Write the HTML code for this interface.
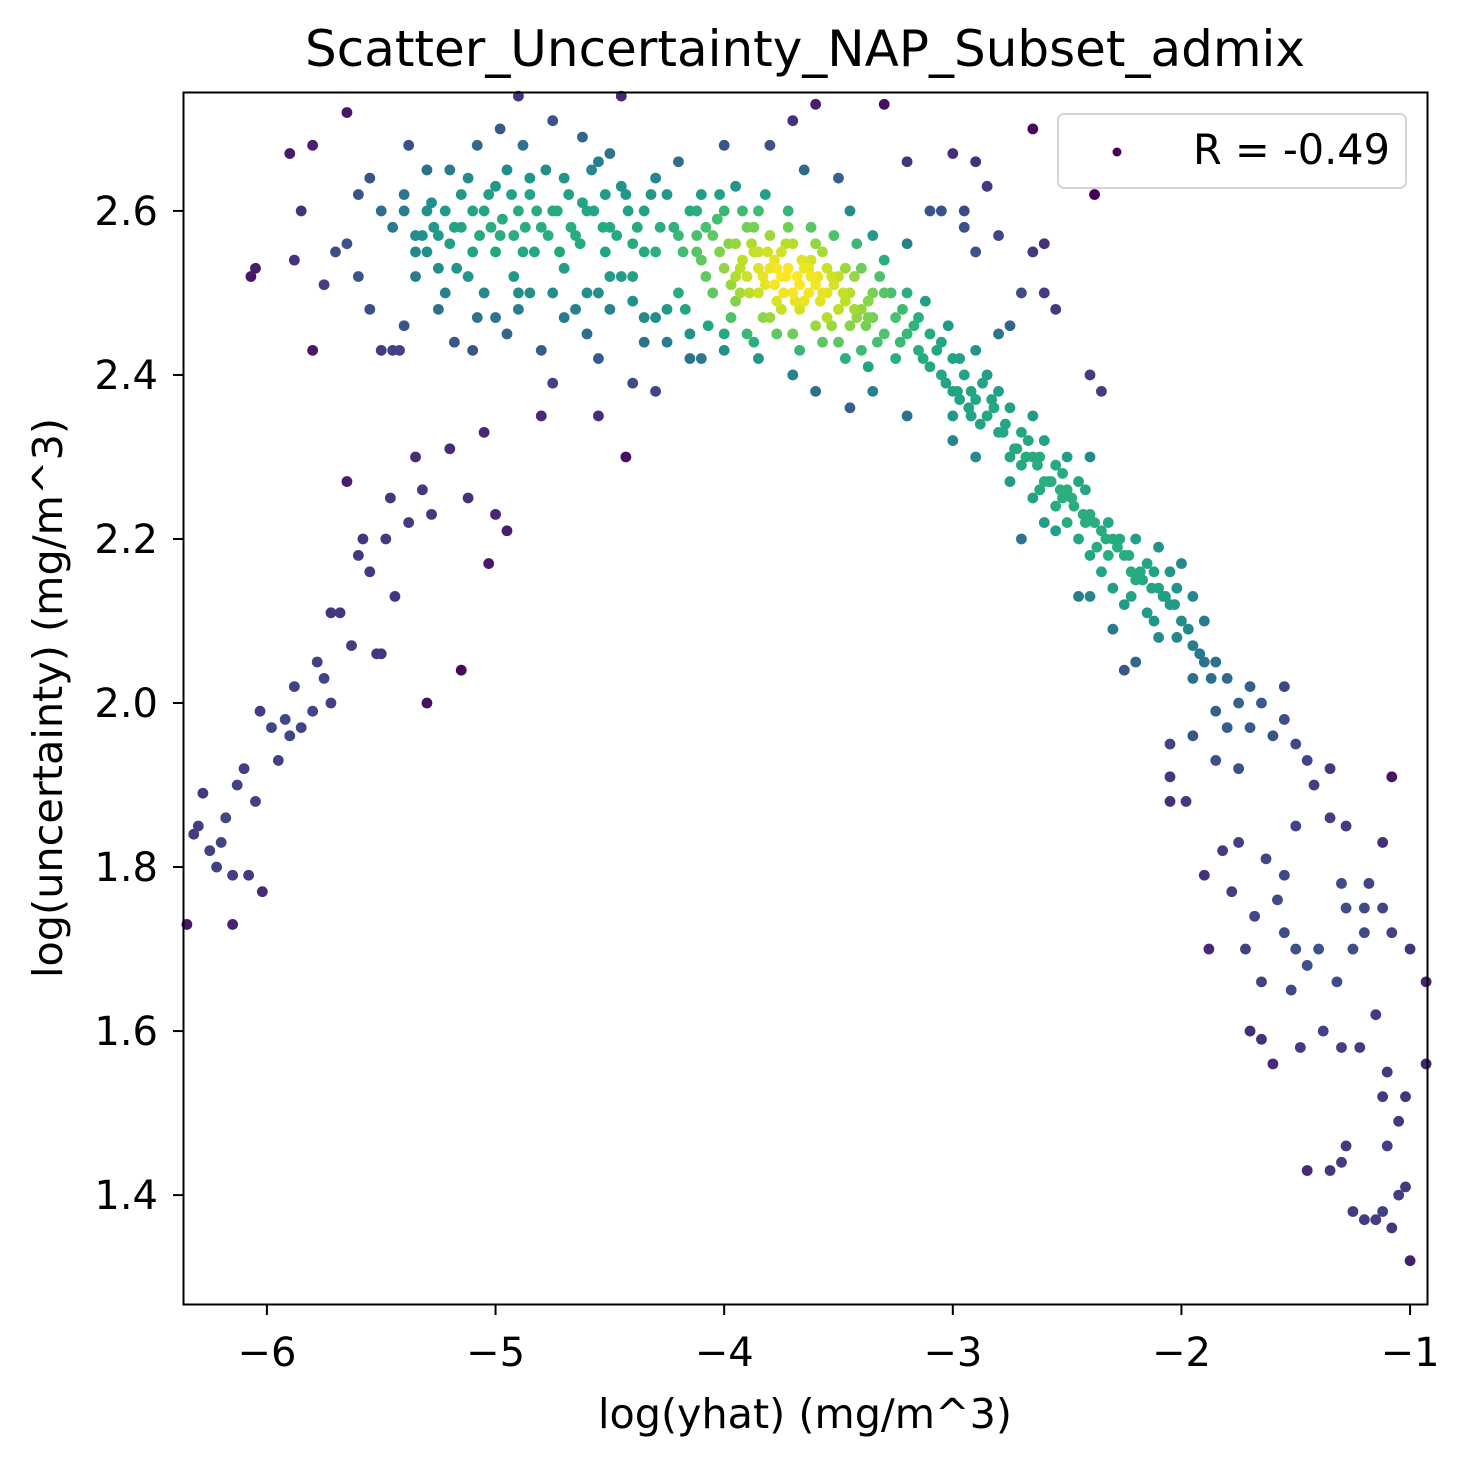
<!DOCTYPE html>
<html><head><meta charset="utf-8"><style>
html,body{margin:0;padding:0;background:#fff;}
svg{display:block;font-family:"DejaVu Sans","Liberation Sans",sans-serif;}
</style></head><body>
<svg id="chart" width="1468" height="1466" viewBox="0 0 1468 1466">
<rect x="0" y="0" width="1468" height="1466" fill="#fff"/>
<text x="805" y="66" font-size="50" text-anchor="middle" textLength="1000" lengthAdjust="spacingAndGlyphs">Scatter_Uncertainty_NAP_Subset_admix</text>
<g id="points"></g>
<rect x="183.5" y="92.5" width="1244" height="1212" fill="none" stroke="#000" stroke-width="2"/>
<g id="xticks"></g>
<g id="yticks"></g>
<text x="805" y="1428" font-size="41" text-anchor="middle" textLength="414" lengthAdjust="spacingAndGlyphs">log(yhat) (mg/m^3)</text>
<text transform="translate(62,698) rotate(-90)" font-size="41" text-anchor="middle" textLength="560" lengthAdjust="spacingAndGlyphs">log(uncertainty) (mg/m^3)</text>
<g>
<rect x="1058" y="114" width="348" height="74" rx="6" fill="#fff" fill-opacity="0.8" stroke="#d5d5d5" stroke-width="2"/>
<circle cx="1117" cy="152" r="4.5" fill="#440154"/>
<text x="1390" y="164" font-size="42" text-anchor="end" textLength="197" lengthAdjust="spacingAndGlyphs">R = -0.49</text>
</g>
</svg>
<script>
const xTicks=[-6,-5,-4,-3,-2,-1];
const yTicks=[1.4,1.6,1.8,2.0,2.2,2.4,2.6];
const yTickLabels=["1.4","1.6","1.8","2.0","2.2","2.4","2.6"];
const xs=[-6.35,-6.3,-6.28,-6.22,-6.2,-6.18,-6.15,-6.13,-6.1,-6.08,-6.05,-6.03,-6.02,-5.98,-5.95,-5.92,-5.9,-5.88,-5.85,-5.8,-5.78,-5.75,-5.72,-5.68,-5.63,-5.6,-5.58,-5.55,-5.52,-5.5,-5.48,-5.46,-5.44,-5.38,-5.35,-5.32,-5.3,-5.28,-5.2,-5.15,-5.12,-5.05,-5.03,-5.0,-4.95,-5.65,-5.42,-5.72,-6.15,-6.32,-6.25,
-5.9,-5.8,-5.65,-5.6,-5.65,-5.7,-5.75,-5.85,-5.88,-6.07,-6.05,-5.8,-5.55,-5.55,-5.5,-5.45,-5.4,-5.38,-5.35,-5.3,-5.28,-5.25,-5.2,-5.18,-5.15,-5.1,-5.08,-5.05,-5.0,-4.98,-4.95,-4.92,-4.9,-4.88,-4.85,-4.8,-4.78,-4.75,-4.7,-4.68,-4.65,-4.6,-4.58,-4.55,-4.52,-4.5,-4.45,-5.3,-5.22,-5.12,-5.0,-4.95,-4.9,-4.8,-4.7,-4.6,-4.55,-4.5,-4.45,-4.4,-5.45,-5.35,-5.25,-5.18,-5.05,-4.98,-4.88,-4.75,-4.62,-4.55,-4.5,-4.45,-4.9,-4.4,-4.75,-4.8,-4.3,-4.43,-4.55,-5.1,-5.6,-5.5,-5.4,-5.4,-5.32,-5.22,-5.12,-5.02,-4.92,-4.82,-4.72,-4.62,-4.52,-4.42,
-4.4,-4.35,-4.3,-4.3,-4.25,-4.2,-4.2,-4.15,-4.15,-4.1,-4.1,-4.05,-4.05,-4.0,-4.0,-4.0,-3.95,-3.95,-3.9,-3.9,-3.9,-3.85,-3.85,-3.85,-3.8,-3.8,-3.8,-3.75,-3.75,-3.75,-3.7,-3.7,-3.7,-3.65,-3.65,-3.6,-3.6,-3.6,-3.55,-3.55,-3.5,-3.5,-3.5,-3.45,-3.45,-3.4,-3.4,-3.4,-3.35,-3.35,-3.3,-3.3,-3.25,-3.25,-3.2,-3.2,-3.15,-3.15,-3.1,-3.1,-3.05,-3.05,-3.0,-3.0,
-3.92,-3.88,-3.82,-3.78,-3.72,-3.68,-3.62,-3.58,-3.52,-3.48,-3.42,-3.38,-3.62,-3.78,-3.85,-4.02,-4.08,-3.72,-3.55,-3.95,
-3.93,-3.87,-3.83,-3.77,-3.73,-3.67,-3.63,-3.57,-3.53,-3.47,-3.43,-3.37,-3.66,-3.81,-3.89,-3.97,-4.12,-3.74,-3.59,-3.69,
-4.3,-4.2,-4.0,-3.95,-3.8,-3.7,-3.6,-3.65,-3.5,-3.45,-3.35,-3.3,-3.2,-3.1,-3.0,-2.95,-2.9,-2.85,-2.8,-3.3,-4.0,-3.85,-3.7,-3.6,-3.45,-3.35,-3.2,-4.1,-4.25,-4.35,
-3.0,-2.95,-2.9,-2.9,-2.85,-2.85,-2.8,-2.8,-2.75,-2.75,-2.7,-2.7,-2.65,-2.65,-2.6,-2.6,-2.55,-2.55,-2.5,-2.5,-2.45,-2.45,-2.4,-2.4,-2.35,-2.35,-2.3,-2.3,-2.25,-2.25,-2.2,-2.2,-2.15,-2.15,-2.1,-2.1,-2.05,-2.05,-2.0,-2.0,-1.95,-1.95,-1.9,-1.9,-1.85,-1.85,-1.8,-1.75,-1.7,-1.65,-1.6,-1.55,-1.5,-1.45,-2.8,-2.75,-2.6,-2.5,-2.4,-2.35,-2.2,-2.3,-2.45,-2.55,-2.65,-2.7,-2.9,-3.0,-2.4,-2.1,-1.95,-1.8,-1.7,-1.55,-1.95,-1.85,-1.75,-2.6,-2.55,-2.65,-2.7,-2.75,
-2.98,-2.93,-2.88,-2.83,-2.78,-2.73,-2.68,-2.63,-2.58,-2.53,-2.48,-2.43,-2.38,-2.33,-2.28,-2.23,-2.18,-2.13,-2.08,-2.03,
-2.05,-2.05,-1.98,-1.9,-1.88,-1.82,-1.78,-1.75,-1.72,-1.68,-1.65,-1.63,-1.6,-1.58,-1.55,-1.52,-1.5,-1.48,-1.45,-1.42,-1.4,-1.38,-1.35,-1.32,-1.3,-1.28,-1.25,-1.22,-1.2,-1.18,-1.15,-1.12,-1.1,-1.08,-1.05,-1.02,-1.0,-1.02,-1.05,-1.08,-1.1,-1.12,-1.15,-1.2,-1.25,-1.28,-1.3,-1.35,-1.45,-1.0,-0.93,-0.93,-1.08,-1.12,-1.2,-1.55,-1.5,-1.3,-1.65,-1.7,-1.35,-1.28,-1.12,
-2.38,-2.6,-2.9,-2.95,-2.65,-3.2,-3.05,-2.25,-2.05,-2.4,
-5.35,-5.3,-5.27,-5.2,-5.17,-5.1,-5.07,-5.03,-4.97,-4.93,-4.87,-4.83,-4.77,-4.73,-4.67,-4.63,-4.57,-4.53,-4.47,-4.43,-4.38,-4.35,-4.32,-4.28,-4.7,-4.85,-5.0,-4.9,-4.75,-4.6,-4.5,-4.65,-4.4,-4.35,-4.25,-4.15,-4.85,-5.08,-5.15,-5.25,
-4.22,-4.18,-4.12,-4.08,-4.03,-3.98,-3.93,-3.87,-3.83,-3.77,-3.73,-3.67,-3.63,-3.57,-3.53,-3.47,-3.43,-3.37,-3.33,-3.27,-3.23,-3.17,-3.13,-3.07,-3.03,-4.17,-4.07,-3.97,-3.87,-3.77,-3.67,-3.57,-3.47,-3.37,-4.12,-4.02,-3.92,-3.82,-3.72,-3.62,-3.52,-3.42,-3.32,-3.22,-3.12,-3.02,-2.97,-2.92,
-2.97,-2.92,-2.87,-2.82,-2.77,-2.72,-2.67,-2.62,-2.57,-2.52,-2.47,-2.42,-2.37,-2.32,-2.27,-2.22,-2.17,-2.12,-2.07,-2.02,-1.97,-1.92,-1.87,-2.62,-2.52,-2.42,-2.32,-2.22,-2.12,-2.02];
const ys=[1.73,1.85,1.89,1.8,1.83,1.86,1.79,1.9,1.92,1.79,1.88,1.99,1.77,1.97,1.93,1.98,1.96,2.02,1.97,1.99,2.05,2.03,2.0,2.11,2.07,2.18,2.2,2.16,2.06,2.06,2.2,2.25,2.13,2.22,2.3,2.26,2.0,2.23,2.31,2.04,2.25,2.33,2.17,2.23,2.21,2.27,2.43,2.11,1.73,1.84,1.82,
2.67,2.68,2.72,2.62,2.56,2.55,2.51,2.6,2.54,2.52,2.53,2.43,2.48,2.64,2.6,2.58,2.62,2.68,2.57,2.55,2.61,2.53,2.65,2.58,2.62,2.55,2.68,2.6,2.63,2.57,2.65,2.52,2.6,2.55,2.62,2.58,2.65,2.6,2.53,2.62,2.57,2.6,2.65,2.5,2.62,2.58,2.63,2.65,2.5,2.52,2.47,2.45,2.5,2.43,2.47,2.45,2.42,2.48,2.52,2.56,2.43,2.52,2.48,2.44,2.5,2.7,2.68,2.71,2.69,2.66,2.67,2.74,2.74,2.39,2.39,2.35,2.38,2.3,2.35,2.43,2.52,2.43,2.46,2.6,2.57,2.6,2.64,2.58,2.57,2.6,2.55,2.61,2.55,2.6,
2.52,2.6,2.47,2.55,2.62,2.5,2.57,2.6,2.45,2.54,2.62,2.5,2.57,2.6,2.45,2.53,2.56,2.49,2.58,2.52,2.45,2.55,2.5,2.6,2.53,2.47,2.57,2.52,2.55,2.48,2.5,2.56,2.45,2.53,2.49,2.51,2.56,2.46,2.5,2.53,2.48,2.52,2.44,2.5,2.46,2.48,2.53,2.43,2.47,2.5,2.45,2.5,2.47,2.42,2.45,2.5,2.43,2.47,2.41,2.45,2.4,2.44,2.38,2.42,
2.54,2.56,2.51,2.54,2.53,2.52,2.54,2.49,2.51,2.5,2.47,2.46,2.52,2.51,2.53,2.55,2.58,2.58,2.47,2.52,
2.53,2.55,2.52,2.53,2.52,2.51,2.53,2.5,2.52,2.49,2.48,2.47,2.54,2.55,2.5,2.51,2.55,2.5,2.52,2.49,
2.64,2.66,2.68,2.63,2.68,2.71,2.73,2.65,2.64,2.6,2.57,2.54,2.56,2.6,2.67,2.6,2.55,2.63,2.57,2.73,2.43,2.42,2.4,2.38,2.36,2.38,2.35,2.42,2.44,2.47,
2.35,2.4,2.37,2.43,2.35,2.4,2.33,2.38,2.3,2.36,2.33,2.29,2.3,2.35,2.27,2.32,2.29,2.24,2.26,2.22,2.27,2.2,2.23,2.18,2.21,2.16,2.2,2.14,2.18,2.12,2.2,2.15,2.17,2.11,2.14,2.19,2.12,2.16,2.1,2.17,2.07,2.13,2.05,2.1,2.05,1.99,2.03,2.0,1.97,2.0,1.96,1.98,1.95,1.93,2.45,2.27,2.22,2.3,2.4,2.38,2.05,2.09,2.13,2.21,2.25,2.2,2.3,2.32,2.13,2.08,2.03,1.97,2.02,2.02,1.96,1.93,1.92,2.5,2.48,2.55,2.5,2.46,
2.38,2.36,2.34,2.37,2.33,2.31,2.3,2.29,2.27,2.26,2.25,2.23,2.22,2.2,2.19,2.18,2.16,2.14,2.13,2.12,
1.88,1.91,1.88,1.79,1.7,1.82,1.77,1.83,1.7,1.74,1.66,1.81,1.56,1.76,1.72,1.65,1.85,1.58,1.68,1.9,1.7,1.6,1.92,1.66,1.78,1.85,1.7,1.58,1.75,1.78,1.62,1.75,1.55,1.72,1.49,1.52,1.32,1.41,1.4,1.36,1.46,1.52,1.37,1.37,1.38,1.46,1.44,1.43,1.43,1.7,1.66,1.56,1.91,1.83,1.72,1.79,1.7,1.58,1.59,1.6,1.86,1.75,1.38,
2.62,2.56,2.66,2.58,2.7,2.66,2.6,2.04,1.95,2.3,
2.55,2.6,2.58,2.56,2.53,2.6,2.57,2.62,2.59,2.62,2.58,2.55,2.57,2.6,2.58,2.56,2.6,2.58,2.57,2.62,2.58,2.55,2.62,2.58,2.64,2.64,2.55,2.48,2.5,2.5,2.52,2.48,2.49,2.44,2.48,2.42,2.5,2.47,2.58,2.57,
2.58,2.55,2.57,2.52,2.59,2.56,2.5,2.58,2.47,2.49,2.56,2.48,2.5,2.55,2.46,2.53,2.52,2.49,2.44,2.5,2.44,2.46,2.42,2.43,2.39,2.48,2.46,2.47,2.44,2.45,2.43,2.44,2.42,2.41,2.6,2.62,2.6,2.62,2.6,2.58,2.57,2.56,2.52,2.48,2.49,2.46,2.42,2.38,
2.37,2.35,2.39,2.36,2.34,2.31,2.32,2.3,2.27,2.25,2.24,2.22,2.19,2.18,2.2,2.16,2.15,2.16,2.13,2.14,2.09,2.06,2.03,2.26,2.28,2.26,2.22,2.13,2.1,2.08];

const NS='http://www.w3.org/2000/svg';
const X0=183,X1=1427,Y0=92,Y1=1305;
const xmin=-6.367,xmax=-0.926,ymin=1.266,ymax=2.745;
function xScale(v){return X0+(v-xmin)/(xmax-xmin)*(X1-X0);}
function yScale(v){return Y1-(v-ymin)/(ymax-ymin)*(Y1-Y0);}
const stops=["#440154","#482475","#414487","#355f8d","#2a788e","#21918c","#22a884","#44bf70","#7ad151","#bddf26","#fde725"];
function hex(c){return [parseInt(c.slice(1,3),16),parseInt(c.slice(3,5),16),parseInt(c.slice(5,7),16)];}
function viridis(t){t=Math.max(0,Math.min(1,t));const p=t*10,i=Math.min(9,Math.floor(p)),f=p-i;const a=hex(stops[i]),b=hex(stops[i+1]);return 'rgb('+a.map((v,k)=>Math.round(v+(b[k]-v)*f)).join(',')+')';}

const n=Math.min(xs.length,ys.length);
const px=[],py=[],dens=[];
for(let i=0;i<n;i++){px.push(xScale(xs[i]));py.push(yScale(ys[i]));}
for(let i=0;i<n;i++){let s=0;for(let j=0;j<n;j++){const dx=px[i]-px[j],dy=py[i]-py[j];s+=Math.exp(-(dx*dx+dy*dy)/(2*50*50));}dens.push(s);}
const dmin=Math.min(...dens),dmax=Math.max(...dens);
const order=[...Array(n).keys()].sort((a,b)=>dens[a]-dens[b]);
const g=document.getElementById('points');
for(const i of order){
  const c=document.createElementNS(NS,'circle');
  
  
  c.setAttribute('cx',px[i]);c.setAttribute('cy',py[i]);c.setAttribute('r',5.4);
  c.setAttribute('fill',viridis(Math.pow((dens[i]-dmin)/(dmax-dmin),0.75)));
  g.appendChild(c);
}
const gx=document.getElementById('xticks');
for(const t of xTicks){
  const x=xScale(t);
  const l=document.createElementNS(NS,'line');
  
  
  l.setAttribute('x1',x);l.setAttribute('x2',x);l.setAttribute('y1',1305);l.setAttribute('y2',1315);l.setAttribute('stroke','#000');l.setAttribute('stroke-width','2');
  gx.appendChild(l);
  const tx=document.createElementNS(NS,'text');
  
  
  tx.setAttribute('x',x);tx.setAttribute('y',1366);tx.setAttribute('font-size','40');tx.setAttribute('text-anchor','middle');
  tx.textContent='\u2212'+Math.abs(t);
  gx.appendChild(tx);
}
const gy=document.getElementById('yticks');
yTicks.forEach((t,k)=>{
  const y=yScale(t);
  const l=document.createElementNS(NS,'line');
  
  
  l.setAttribute('x1',173);l.setAttribute('x2',183);l.setAttribute('y1',y);l.setAttribute('y2',y);l.setAttribute('stroke','#000');l.setAttribute('stroke-width','2');
  gy.appendChild(l);
  const tx=document.createElementNS(NS,'text');
  
  
  tx.setAttribute('x',158);tx.setAttribute('y',y+14);tx.setAttribute('font-size','40');tx.setAttribute('text-anchor','end');
  tx.textContent=yTickLabels[k];
  gy.appendChild(tx);
});
</script>
</body></html>
